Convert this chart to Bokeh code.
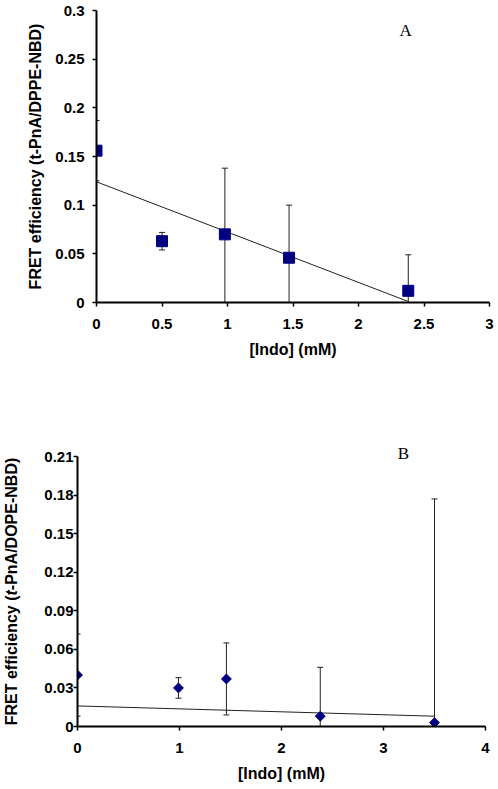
import math
from bokeh.plotting import figure
from bokeh.layouts import column, row
from bokeh.models import ColumnDataSource, Whisker, TeeHead, FixedTicker, Label, Range1d
from bokeh.embed import file_html
from bokeh.resources import INLINE

# ---- Panel A data ----
a_x = [0, 0.5, 0.98, 1.47, 2.38]
a_y = [0.156, 0.063, 0.070, 0.046, 0.012]
a_upper = [0.187, 0.072, 0.138, 0.100, 0.049]
a_lower = [0.125, 0.054, 0.0, 0.0, 0.0]
a_fit_x = [0, 2.38]
a_fit_y = [0.124, 0.001]
a_xticks = [0, 0.5, 1, 1.5, 2, 2.5, 3]
a_xlabels = ["0", "0.5", "1", "1.5", "2", "2.5", "3"]
a_yticks = [0, 0.05, 0.1, 0.15, 0.2, 0.25, 0.3]
a_ylabels = ["0", "0.05", "0.1", "0.15", "0.2", "0.25", "0.3"]

# ---- Panel B data ----
b_x = [0, 0.99, 1.46, 2.38, 3.5]
b_y = [0.040, 0.030, 0.037, 0.008, 0.003]
b_upper = [0.072, 0.038, 0.065, 0.046, 0.177]
b_lower = [0.008, 0.022, 0.009, 0.0, 0.0]
b_fit_x = [0, 3.5]
b_fit_y = [0.016, 0.008]
b_xticks = [0, 1, 2, 3, 4]
b_xlabels = ["0", "1", "2", "3", "4"]
b_yticks = [0, 0.03, 0.06, 0.09, 0.12, 0.15, 0.18, 0.21]
b_ylabels = ["0", "0.03", "0.06", "0.09", "0.12", "0.15", "0.18", "0.21"]

NAVY = "#000080"
SANS = "Liberation Sans"
EB = "#222222"


def style(p, xticks, xlabels, yticks, ylabels, ylab_standoff, ytick_standoff):
    p.grid.visible = False
    p.outline_line_color = None
    p.background_fill_color = "white"
    p.border_fill_color = "white"
    for ax in (p.xaxis[0], p.yaxis[0]):
        ax.axis_line_width = 2
        ax.axis_line_color = "black"
        ax.major_tick_line_width = 1.5
        ax.major_tick_line_color = "black"
        ax.major_tick_out = 4
        ax.major_tick_in = 0
        ax.minor_tick_line_color = None
        ax.major_label_text_font = SANS
        ax.major_label_text_font_style = "bold"
        ax.major_label_text_font_size = "15px"
        ax.major_label_text_color = "black"
        ax.axis_label_text_font = SANS
        ax.axis_label_text_font_style = "bold"
        ax.axis_label_text_font_size = "16px"
        ax.axis_label_text_color = "black"
    p.xaxis[0].ticker = FixedTicker(ticks=xticks)
    p.xaxis[0].major_label_overrides = dict(zip(xticks, xlabels))
    p.yaxis[0].ticker = FixedTicker(ticks=yticks)
    p.yaxis[0].major_label_overrides = dict(zip(yticks, ylabels))
    p.xaxis[0].major_label_standoff = 12
    p.xaxis[0].axis_label_standoff = 9
    p.yaxis[0].major_label_standoff = ytick_standoff
    p.yaxis[0].axis_label_standoff = ylab_standoff


# ---------------- Panel A ----------------
pA = figure(output_backend="svg", toolbar_location=None,
            frame_width=393, frame_height=292,
            min_border_left=96, min_border_right=9, min_border_top=10, min_border_bottom=118,
            x_range=Range1d(0, 3), y_range=Range1d(0, 0.3))
style(pA, a_xticks, a_xlabels, a_yticks, a_ylabels, 8, 8)
pA.xaxis[0].axis_label = "[Indo] (mM)"
pA.yaxis[0].axis_label = "FRET efficiency (t-PnA/DPPE-NBD)"

srcA = ColumnDataSource(dict(x=a_x, y=a_y, upper=a_upper, lower=a_lower))
pA.add_layout(Whisker(base="x", upper="upper", lower="lower", source=srcA,
                      line_color=EB, line_width=1,
                      upper_head=TeeHead(size=6, line_color=EB, line_width=1),
                      lower_head=TeeHead(size=6, line_color=EB, line_width=1)))
pA.line(a_fit_x, a_fit_y, line_color=EB, line_width=1)
pA.scatter("x", "y", source=srcA, marker="square", size=11,
           fill_color=NAVY, line_color=NAVY)
pA.add_layout(Label(x=2.36, y=0.279, text="A", text_font="Liberation Serif",
                    text_font_size="17px", text_align="center",
                    text_baseline="middle", text_color="black"))

# ---------------- Panel B ----------------
# frame extends 16px above the 0.21 axis end so the "B" tag is not clipped
px_per_unit = 270 / 0.21
b_top = 0.21 + 16 / px_per_unit
pB = figure(output_backend="svg", toolbar_location=None,
            frame_width=408, frame_height=286,
            min_border_left=56, min_border_right=14, min_border_top=20, min_border_bottom=62,
            x_range=Range1d(0, 4), y_range=Range1d(0, b_top))
style(pB, b_xticks, b_xlabels, b_yticks, b_ylabels, 0, 0)
pB.yaxis[0].bounds = (0, 0.21)
pB.xaxis[0].axis_label = "[Indo] (mM)"

srcB = ColumnDataSource(dict(x=b_x, y=b_y, upper=b_upper, lower=b_lower))
pB.add_layout(Whisker(base="x", upper="upper", lower="lower", source=srcB,
                      line_color=EB, line_width=1,
                      upper_head=TeeHead(size=6, line_color=EB, line_width=1),
                      lower_head=TeeHead(size=6, line_color=EB, line_width=1)))
pB.line(b_fit_x, b_fit_y, line_color=EB, line_width=1)
pB.scatter("x", "y", source=srcB, marker="square", size=7, angle=45, angle_units="deg",
           fill_color=NAVY, line_color=NAVY)
pB.add_layout(Label(x=3.196, y=0.2123, text="B", text_font="Liberation Serif",
                    text_font_size="17px", text_align="center",
                    text_baseline="middle", text_color="black"))

# y-axis title of B (italic "t"), drawn in a narrow side figure with the
# same vertical layout and y range as panel B
pBL = figure(output_backend="svg", toolbar_location=None, title=None,
             frame_width=21, frame_height=286,
             min_border_left=0, min_border_right=0, min_border_top=20, min_border_bottom=62,
             x_range=Range1d(0, 21), y_range=Range1d(0, b_top),
             x_axis_type=None, y_axis_type=None)
pBL.grid.visible = False
pBL.outline_line_color = None
fs = 16
t_start = 131.0 / px_per_unit        # where the italic "t" begins (131 px above y=0)
t_len = 0.333 * fs / px_per_unit
common = dict(x=10.5, angle=math.pi / 2, text_font=SANS, text_font_size=f"{fs}px",
              text_baseline="middle", text_color="black")
pBL.add_layout(Label(y=t_start, text="FRET efficiency (", text_align="right",
                     text_font_style="bold", **common))
pBL.add_layout(Label(y=t_start, text="t", text_align="left",
                     text_font_style="bold italic", **common))
pBL.add_layout(Label(y=t_start + t_len, text="-PnA/DOPE-NBD)", text_align="left",
                     text_font_style="bold", **common))

layout = column(pA, row(pBL, pB, spacing=0), spacing=0)
open("out.html", "w").write(file_html(layout, INLINE))
